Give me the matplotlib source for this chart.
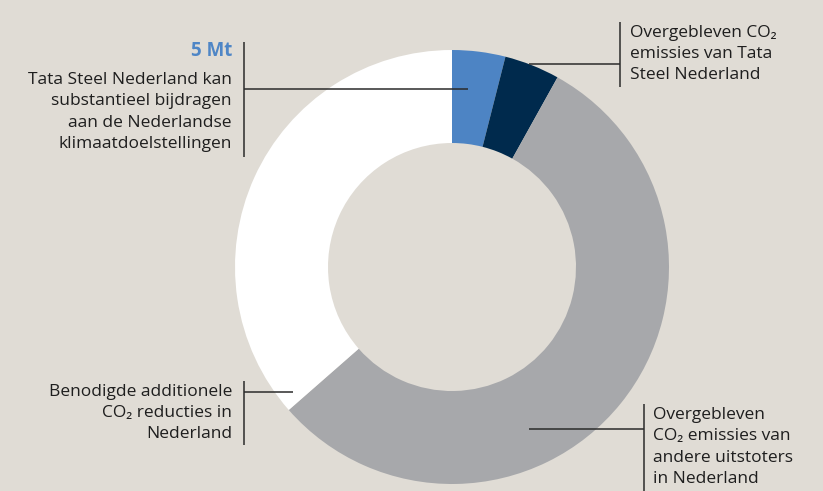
import matplotlib.pyplot as plt

# CO2 emissies (Mt), geschat uit de figuur
labels = ["Tata Steel bijdrage", "Overgebleven Tata Steel", "Overgebleven andere uitstoters", "Benodigde additionele reducties"]
waarden = [5, 5.2, 70, 46]
kleuren = ["#4d84c4", "#002a4d", "#a7a8ab", "#ffffff"]

bg = "#e0dcd5"
tekst = "#1e1e1e"
lijn = "#2b2b2b"
fam = ["Open Sans", "DejaVu Sans"]
H = 491

fig = plt.figure(figsize=(8.23, 4.91), dpi=100)
fig.patch.set_facecolor(bg)
ax = fig.add_axes([0, 0, 1, 1])
ax.set_facecolor(bg)

ax.pie(waarden, colors=kleuren, startangle=90, counterclock=False,
       center=(452, H - 267), radius=217,
       wedgeprops=dict(width=93, edgecolor="none", linewidth=0))

ax.set_xlim(0, 823)
ax.set_ylim(0, H)
ax.set_aspect("auto")
ax.axis("off")


def y(p):
    return H - p


def leider(xs, ys):
    ax.plot(xs, [y(v) for v in ys], color=lijn, lw=1.1, solid_capstyle="butt")


# verbindingslijnen
leider([244, 244], [42, 157])
leider([244, 468], [89, 89])
leider([620, 620], [22, 87])
leider([529, 620], [64, 64])
leider([244, 244], [381, 445])
leider([244, 293], [392, 392])
leider([644, 644], [404, 491])
leider([529, 644], [429, 429])

fs = 12.5
ax.text(232, y(51), "5 Mt", ha="right", va="center", fontsize=13.5,
        fontweight="bold", color="#4f86c6", family=fam)
ax.text(232, y(112), "Tata Steel Nederland kan\nsubstantieel bijdragen\naan de Nederlandse\nklimaatdoelstellingen",
        ha="right", va="center", fontsize=fs, color=tekst, family=fam, linespacing=1.45)
ax.text(630, y(54), "Overgebleven CO₂\nemissies van Tata\nSteel Nederland",
        ha="left", va="center", fontsize=fs, color=tekst, family=fam, linespacing=1.45)
ax.text(232, y(413), "Benodigde additionele\nCO₂ reducties in\nNederland",
        ha="right", va="center", fontsize=fs, color=tekst, family=fam, linespacing=1.45)
ax.text(653, y(447), "Overgebleven\nCO₂ emissies van\nandere uitstoters\nin Nederland",
        ha="left", va="center", fontsize=fs, color=tekst, family=fam, linespacing=1.45)

fig.savefig("out.png", dpi=100, facecolor=bg)
